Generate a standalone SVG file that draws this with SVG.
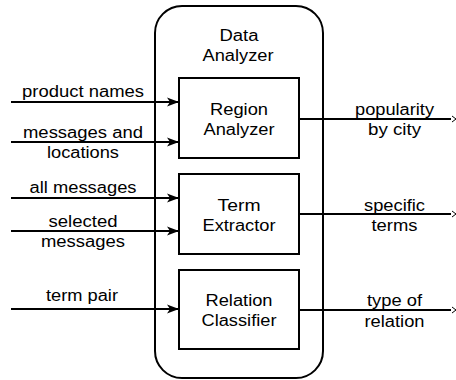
<svg xmlns="http://www.w3.org/2000/svg" width="456" height="380" viewBox="0 0 456 380">
  <defs>
    <style>
      text { font-family: "Liberation Sans", Arial, sans-serif; font-size: 16px; fill: #000; text-anchor: middle; }
      .frame { fill: #fff; stroke: #000; stroke-width: 2; }
      .box { fill: #fff; stroke: #000; stroke-width: 2; }
      .wire { fill: none; stroke: #000; stroke-width: 2; }
      .tip { fill: none; stroke: #000; stroke-width: 1; }
    </style>
    <marker id="arrow" markerUnits="userSpaceOnUse" markerWidth="12" markerHeight="10" refX="12" refY="5" orient="auto">
      <path d="M0,0.5 L12,5 L0,9.5 L3,5 Z" fill="#000"/>
    </marker>
  </defs>

  <!-- container -->
  <g id="data-analyzer">
    <rect class="frame" x="155" y="6" width="168" height="372" rx="27" ry="27"/>
    <text x="239" y="41" textLength="39" lengthAdjust="spacingAndGlyphs">Data</text>
    <text x="238" y="61" textLength="71" lengthAdjust="spacingAndGlyphs">Analyzer</text>
  </g>

  <g id="region-analyzer">
    <rect class="box" x="179" y="78" width="120" height="80"/>
    <text x="239" y="115" textLength="58" lengthAdjust="spacingAndGlyphs">Region</text>
    <text x="239" y="135" textLength="71" lengthAdjust="spacingAndGlyphs">Analyzer</text>
  </g>

  <g id="term-extractor">
    <rect class="box" x="179" y="174" width="120" height="80"/>
    <text x="239" y="211" textLength="43" lengthAdjust="spacingAndGlyphs">Term</text>
    <text x="239" y="231" textLength="73" lengthAdjust="spacingAndGlyphs">Extractor</text>
  </g>

  <g id="relation-classifier">
    <rect class="box" x="179" y="270" width="120" height="79"/>
    <text x="239" y="306" textLength="67" lengthAdjust="spacingAndGlyphs">Relation</text>
    <text x="239" y="326" textLength="75" lengthAdjust="spacingAndGlyphs">Classifier</text>
  </g>

  <!-- connectors -->
  <g id="connectors">
    <line class="wire" x1="11" y1="102" x2="179" y2="102" marker-end="url(#arrow)"/>
    <line class="wire" x1="11" y1="142" x2="179" y2="142" marker-end="url(#arrow)"/>
    <line class="wire" x1="11" y1="198" x2="179" y2="198" marker-end="url(#arrow)"/>
    <line class="wire" x1="11" y1="231" x2="179" y2="231" marker-end="url(#arrow)"/>
    <line class="wire" x1="11" y1="309" x2="179" y2="309" marker-end="url(#arrow)"/>

    <line class="wire" x1="299" y1="119" x2="451" y2="119"/>
    <polyline class="tip" points="452,116 456,119 452,122"/>
    <line class="wire" x1="299" y1="214" x2="451" y2="214"/>
    <polyline class="tip" points="452,211 456,214 452,217"/>
    <line class="wire" x1="299" y1="310" x2="451" y2="310"/>
    <polyline class="tip" points="452,307 456,310 452,313"/>

    <text x="83" y="97" textLength="122" lengthAdjust="spacingAndGlyphs">product names</text>
    <text x="83" y="138" textLength="120" lengthAdjust="spacingAndGlyphs">messages and</text>
    <text x="83" y="158" textLength="72" lengthAdjust="spacingAndGlyphs">locations</text>
    <text x="83" y="193" textLength="107" lengthAdjust="spacingAndGlyphs">all messages</text>
    <text x="83" y="227" textLength="69" lengthAdjust="spacingAndGlyphs">selected</text>
    <text x="83" y="247" textLength="84" lengthAdjust="spacingAndGlyphs">messages</text>
    <text x="82" y="301" textLength="72" lengthAdjust="spacingAndGlyphs">term pair</text>

    <text x="394.5" y="115" textLength="79" lengthAdjust="spacingAndGlyphs">popularity</text>
    <text x="394.5" y="135" textLength="53" lengthAdjust="spacingAndGlyphs">by city</text>
    <text x="394.5" y="211" textLength="61" lengthAdjust="spacingAndGlyphs">specific</text>
    <text x="394.5" y="231" textLength="46" lengthAdjust="spacingAndGlyphs">terms</text>
    <text x="394.5" y="306" textLength="55" lengthAdjust="spacingAndGlyphs">type of</text>
    <text x="394.5" y="327" textLength="60" lengthAdjust="spacingAndGlyphs">relation</text>
  </g>
</svg>
